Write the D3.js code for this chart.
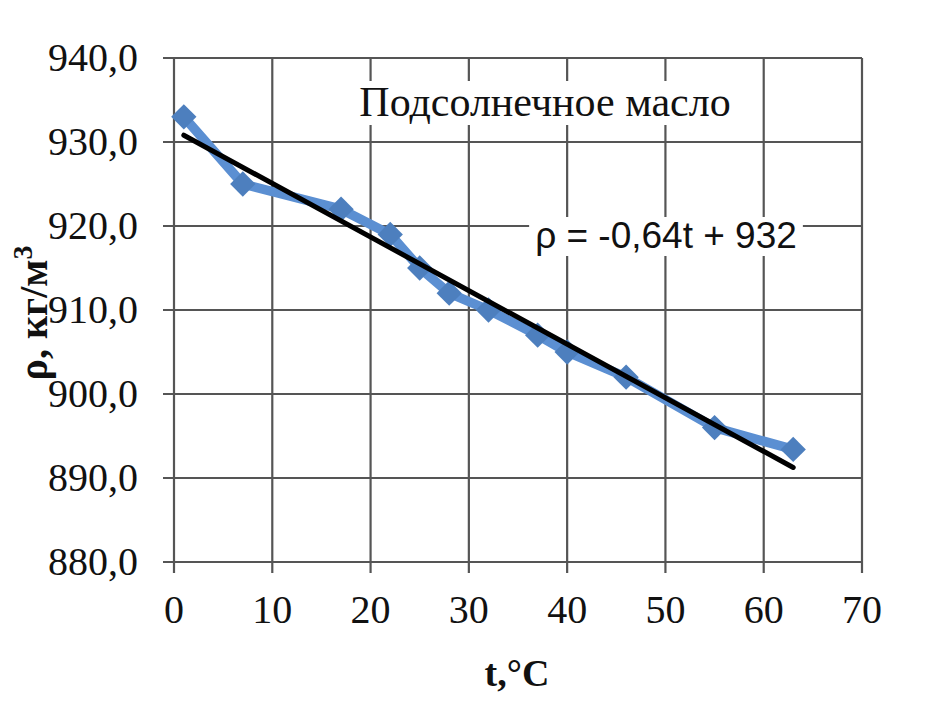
<!DOCTYPE html>
<meta charset="utf-8">
<head>
  <title>Подсолнечное масло</title>
</head>
<style>
body { margin: 0; background: #fff; }
text { font-family: "Liberation Serif", "Times New Roman", serif; fill: #111; }
.grid line { stroke: #555; stroke-width: 2.2; }
</style>
<body>
<svg width="936" height="704"></svg>
<script src="https://cdnjs.cloudflare.com/ajax/libs/d3/7.8.5/d3.min.js"></script>
<script>
// temperature, °C
var tempC = [1, 7, 17, 22, 25, 28, 32, 37, 40, 46, 55, 63];
// density, kg/m3
var density = [933, 925, 922, 919, 915, 912, 910, 907, 905, 902, 896, 893.4];
var xTicks = [0, 10, 20, 30, 40, 50, 60, 70];
var yTicks = [880, 890, 900, 910, 920, 930, 940];

var svg = d3.select('svg');

var x = d3.scaleLinear().domain([0, 70]).range([174, 862]);
var y = d3.scaleLinear().domain([880, 940]).range([562, 58]);

// grid
var grid = svg.append('g').attr('class', 'grid');
grid.selectAll('.v').data(xTicks).enter().append('line')
    .attr('x1', d => x(d)).attr('x2', d => x(d))
    .attr('y1', y(940)).attr('y2', y(880) + 11);
grid.selectAll('.h').data(yTicks).enter().append('line')
    .attr('x1', x(0) - 11).attr('x2', x(70))
    .attr('y1', d => y(d)).attr('y2', d => y(d));

// tick labels
svg.append('g').selectAll('text').data(yTicks).enter().append('text')
    .attr('x', 138).attr('y', d => y(d) + 13)
    .attr('text-anchor', 'end')
    .style('font-size', '40px')
    .text(d => d3.format('.1f')(d).replace('.', ','));
svg.append('g').selectAll('text').data(xTicks).enter().append('text')
    .attr('x', d => x(d)).attr('y', 623)
    .attr('text-anchor', 'middle')
    .style('font-size', '40px')
    .text(d => d);

// series
var pts = tempC.map((t, i) => [t, density[i]]);
svg.append('path')
    .attr('d', d3.line().x(d => x(d[0])).y(d => y(d[1]))(pts))
    .style('fill', 'none').style('stroke', '#5b8fd2').style('stroke-width', 9.5)
    .style('stroke-linejoin', 'round');
svg.append('g').selectAll('path').data(pts).enter().append('path')
    .attr('d', d3.symbol().type(d3.symbolSquare).size(320))
    .attr('transform', d => 'translate(' + x(d[0]) + ',' + y(d[1]) + ') rotate(45)')
    .style('fill', '#4d7fbe');

// linear trend (least squares)
var mt = d3.mean(tempC), mv = d3.mean(density);
var slope = d3.sum(tempC, (t, i) => (t - mt) * (density[i] - mv)) / d3.sum(tempC, t => (t - mt) * (t - mt));
var icpt = mv - slope * mt;
var ends = [d3.min(tempC), d3.max(tempC)];
svg.append('line')
    .attr('x1', x(ends[0])).attr('y1', y(icpt + slope * ends[0]))
    .attr('x2', x(ends[1])).attr('y2', y(icpt + slope * ends[1]))
    .style('stroke', '#000').style('stroke-width', 5).style('stroke-linecap', 'round');

// labels with white boxes
function boxedLabel(txt, cx, cy, size, family) {
    var g = svg.append('g');
    var r = g.append('rect').style('fill', '#fff');
    var t = g.append('text').attr('x', cx).attr('y', cy)
        .attr('text-anchor', 'middle').style('font-size', size + 'px')
        .style('font-family', family).text(txt);
    var b = t.node().getBBox();
    r.attr('x', b.x - 6).attr('y', b.y + 2).attr('width', b.width + 12).attr('height', b.height - 2);
}
boxedLabel('Подсолнечное масло', 545, 116, 42, '"Liberation Serif", serif');
boxedLabel('ρ = -0,64t + 932', 666, 248, 37, '"Liberation Sans", Arial, sans-serif');

// axis titles
svg.append('text')
    .attr('transform', 'translate(47,313) rotate(-90)')
    .attr('text-anchor', 'middle')
    .style('font-size', '40px').style('font-weight', 'bold')
    .html('ρ, кг/м<tspan dy="-15" font-size="28">3</tspan>');
svg.append('text')
    .attr('x', 517).attr('y', 686)
    .attr('text-anchor', 'middle')
    .style('font-size', '38px').style('font-weight', 'bold')
    .text('t,°C');
</script>
</body>
</html>
